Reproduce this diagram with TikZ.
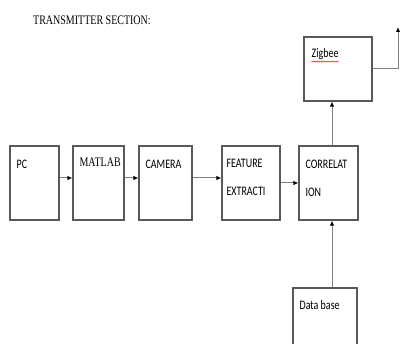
\documentclass[tikz,border=0pt]{standalone}
\usepackage{fontspec}
\setmainfont{Liberation Serif}
\newfontfamily\calib{Carlito}
\usetikzlibrary{arrows.meta, positioning, decorations.pathmorphing}
% text in the scan is drawn taller than wide
\newcommand{\tallt}[1]{\scalebox{1}[1.3]{#1}}
\tikzset{
    block/.style={draw=black!65, line width=1.2pt, fill=white, inner sep=0pt},
    lbl/.style={anchor=north west, inner sep=0pt, align=left, font=\calib\fontsize{10}{28}\selectfont},
    link/.style={draw=black!50, line width=1pt, -{Latex[length=5pt, width=4.5pt, color=black]}},
}

\begin{document}
\begin{tikzpicture}[x=1pt, y=-1pt]
    \useasboundingbox (0,0) rectangle (400,344);
    \clip (0,0) rectangle (400,344);

    \node[anchor=west, inner sep=0pt, font=\fontsize{10}{12}\selectfont] (title) at (33,20) {\tallt{TRANSMITTER SECTION:}};

    % main chain
    \node[block, minimum width=49pt, minimum height=74pt] (pc) at (34.5,183) {};
    \node[block, minimum width=51pt, minimum height=74pt] (matlab) at (98.5,183) {};
    \node[block, minimum width=53pt, minimum height=74pt] (camera) at (165.5,183) {};
    \node[block, minimum width=58pt, minimum height=74pt] (feat) at (251,183) {};
    \node[block, minimum width=59pt, minimum height=74pt] (corr) at (328.5,183) {};
    \node[block, minimum width=68pt, minimum height=64pt] (zig) at (338,69) {};
    \node[block, minimum width=64pt, minimum height=80pt] (db) at (325,328) {};

    \node[lbl] (pct) at ([shift={(7,14)}]pc.north west) {\tallt{PC}};
    \node[lbl, font=\rmfamily\fontsize{10}{12}\selectfont] (matlabt) at ([shift={(7,12)}]matlab.north west) {\tallt{MATLAB}};
    \node[lbl] (camerat) at ([shift={(7,14)}]camera.north west) {\tallt{CAMERA}};
    \node[lbl] (featt) at ([shift={(5,14)}]feat.north west) {\tallt{FEATURE}\\\tallt{EXTRACTI}};
    \node[lbl] (corrt) at ([shift={(7,14)}]corr.north west) {\tallt{CORRELAT}\\\tallt{ION}};
    \node[lbl] (zigt) at ([shift={(8,12)}]zig.north west) {\tallt{Zigbee}};
    \node[lbl] (dbt) at ([shift={(7,13)}]db.north west) {\tallt{Data base}};
    \draw[red!80, line width=0.5pt, decorate, decoration={snake, amplitude=0.6pt, segment length=2pt}]
        ([yshift=-1.5pt]zigt.south west) -- ([yshift=-1.5pt]zigt.south east);

    \coordinate (row) at (0,178);
    \draw[link] (pc.east |- row) -- (matlab.west |- row);
    \draw[link] (matlab.east |- row) -- (camera.west |- row);
    \draw[link] (camera.east |- row) -- (feat.west |- row);
    \draw[link] (feat) -- (corr);

    \coordinate (col) at (332,0);
    \draw[link] (db.north -| col) -- (corr.south -| col);
    \draw[link] (corr.north -| col) -- (zig.south -| col);

    \coordinate (out) at (398,27);
    \draw[link] (zig.east) -| (out);
\end{tikzpicture}
\end{document}
